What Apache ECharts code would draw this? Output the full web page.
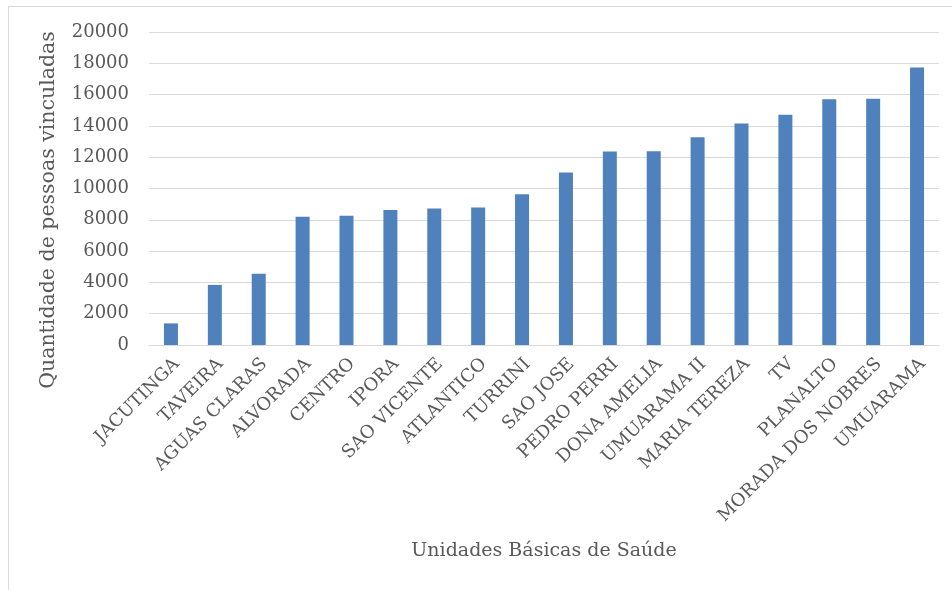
<!DOCTYPE html>
<html>
<head>
<meta charset="utf-8">
<script src="https://cdn.jsdelivr.net/npm/echarts@6/dist/echarts.min.js"></script>
<style>
html,body{margin:0;padding:0;background:#fff;}
#chart{width:952px;height:590px;}
</style>
</head>
<body>
<div id="chart"></div>
<script>
const categories = ["JACUTINGA","TAVEIRA","AGUAS CLARAS","ALVORADA","CENTRO","IPORA","SAO VICENTE","ATLANTICO","TURRINI","SAO JOSE","PEDRO PERRI","DONA AMELIA","UMUARAMA II","MARIA TEREZA","TV","PLANALTO","MORADA DOS NOBRES","UMUARAMA"];
const values = [1380, 3840, 4560, 8200, 8260, 8630, 8730, 8780, 9630, 11030, 12360, 12380, 13270, 14150, 14720, 15700, 15740, 17730];
const yTitle = "Quantidade de pessoas vinculadas";
const xTitle = "Unidades Básicas de Saúde";

const FONT = "DejaVu Serif";
const TXT = "#595959";
const chart = echarts.init(document.getElementById('chart'));
chart.setOption({
  backgroundColor: '#fff',
  animation: false,
  grid: {left: 149, right: 13, top: 32, bottom: 245},
  xAxis: {
    type: 'category',
    data: categories,
    axisLine: {show: true, lineStyle: {color: '#d9d9d9', width: 1}},
    axisTick: {show: false},
    axisLabel: {rotate: 45, interval: 0, margin: 22, color: TXT, fontFamily: FONT, fontSize: 18, padding: [0, -8, 0, 0]}
  },
  yAxis: {
    type: 'value',
    min: 0, max: 20000, interval: 2000,
    axisLine: {show: false},
    axisTick: {show: false},
    splitLine: {lineStyle: {color: '#d9d9d9', width: 1}},
    axisLabel: {margin: 20, color: TXT, fontFamily: FONT, fontSize: 18, formatter: v => String(v)}
  },
  series: [{
    type: 'bar',
    data: values,
    barWidth: 14,
    itemStyle: {color: '#4f81bd'}
  }],
  graphic: [
    {type: 'rect', shape: {x: 8.5, y: 6.5, width: 1000, height: 700}, style: {fill: null, stroke: '#d9d9d9', lineWidth: 1}, silent: true},
    {type: 'text', x: 49, y: 210, rotation: Math.PI/2, style: {text: yTitle, fill: TXT, fontFamily: FONT, fontSize: 20.5, align: 'center', verticalAlign: 'middle'}},
    {type: 'text', x: 544, y: 551, style: {text: xTitle, fill: TXT, fontFamily: FONT, fontSize: 19, align: 'center', verticalAlign: 'middle'}}
  ]
});
</script>
</body>
</html>
